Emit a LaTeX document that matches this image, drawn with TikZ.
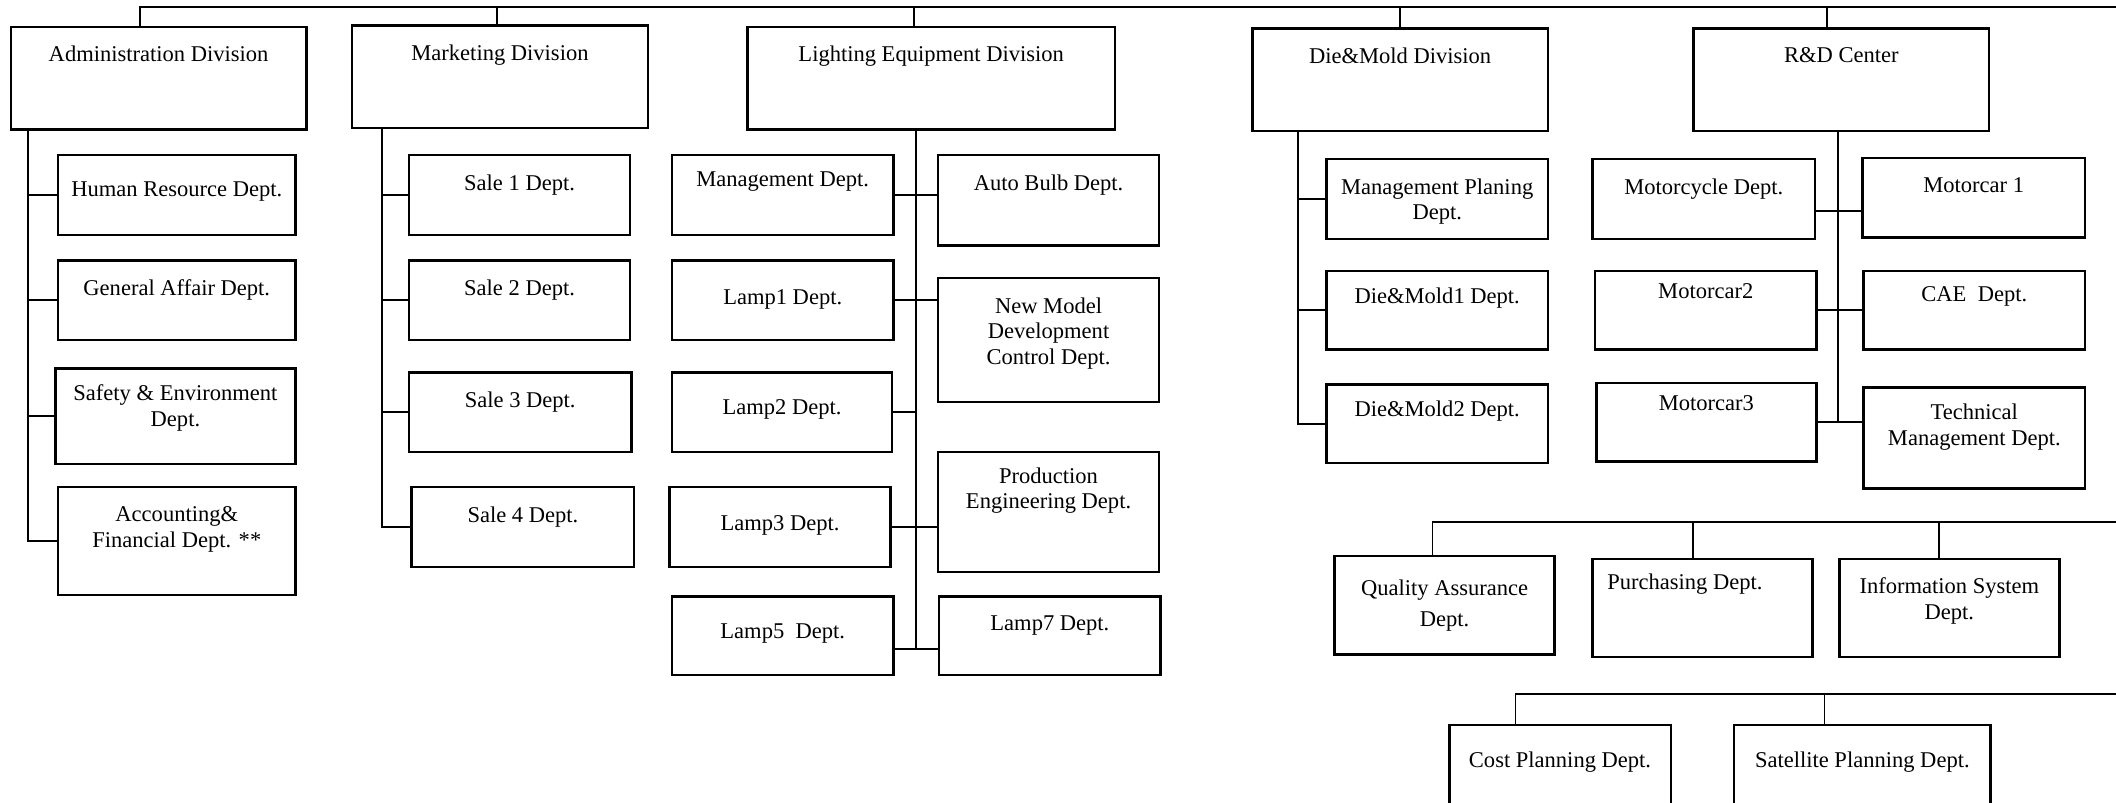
\documentclass[tikz,border=0pt]{standalone}
\usepackage{fontspec}
\setmainfont{Liberation Serif}

\begin{document}
\begin{tikzpicture}[
  x=0.2mm, y=-0.2mm,
  orgbox/.style 2 args={draw, line width=1pt, anchor=north west, outer sep=0pt, inner sep=0pt,
                        minimum width=#1*0.2mm, minimum height=#2*0.2mm},
  txt/.style={anchor=north, align=center, inner sep=0pt, yshift=-2.8mm,
              font=\fontsize{9.5}{10.8}\selectfont},
  link/.style={line width=0.8pt}
]
  \useasboundingbox (0,0) rectangle (1568,595);
  \clip (0,0) rectangle (1568,595);

  % divisions
  \node[orgbox={219}{76}, label={[txt]north:Administration Division}] (admin) at (8,20) {};
  \node[orgbox={219}{76}, label={[txt]north:Marketing Division}] (mkt) at (261,19) {};
  \node[orgbox={272}{76}, label={[txt]north:Lighting Equipment Division}] (light) at (554,20) {};
  \node[orgbox={219}{76}, label={[txt]north:Die\&Mold Division}] (dm) at (928,21) {};
  \node[orgbox={219}{76}, label={[txt]north:R\&D Center}] (rd) at (1255,21) {};

  % administration
  \node[orgbox={176}{59}, label={[txt,yshift=-1mm]north:Human Resource Dept.}] (hr) at (43,115) {};
  \node[orgbox={176}{59}, label={[txt]north:General Affair Dept.}] (ga) at (43,193) {};
  \node[orgbox={178}{71}, label={[txt,yshift=0.4mm]north:{Safety \& Environment\\Dept.}}] (safety) at (41,273) {};
  \node[orgbox={176}{80}, label={[txt]north:{Accounting\&\\Financial Dept. **}}] (acct) at (43,361) {};

  % marketing
  \node[orgbox={164}{59}, label={[txt]north:Sale 1 Dept.}] (sale1) at (303,115) {};
  \node[orgbox={164}{59}, label={[txt]north:Sale 2 Dept.}] (sale2) at (303,193) {};
  \node[orgbox={165}{59}, label={[txt]north:Sale 3 Dept.}] (sale3) at (303,276) {};
  \node[orgbox={165}{59}, label={[txt]north:Sale 4 Dept.}] (sale4) at (305,361) {};

  % lighting equipment
  \node[orgbox={164}{59}, label={[txt,yshift=0.4mm]north:Management Dept.}] (lmgmt) at (498,115) {};
  \node[orgbox={164}{67}, label={[txt]north:Auto Bulb Dept.}] (bulb) at (695,115) {};
  \node[orgbox={164}{59}, label={[txt,yshift=-1.4mm]north:Lamp1 Dept.}] (lamp1) at (498,193) {};
  \node[orgbox={164}{92}, label={[txt]north:{New Model\\Development\\Control Dept.}}] (newmodel) at (695,206) {};
  \node[orgbox={163}{59}, label={[txt,yshift=-1.2mm]north:Lamp2 Dept.}] (lamp2) at (498,276) {};
  \node[orgbox={164}{89}, label={[txt,yshift=0.6mm]north:{Production\\Engineering Dept.}}] (prodeng) at (695,335) {};
  \node[orgbox={164}{59}, label={[txt,yshift=-1.4mm]north:Lamp3 Dept.}] (lamp3) at (496,361) {};
  \node[orgbox={164}{58}, label={[txt,yshift=-1.2mm]north:Lamp5\ \ Dept.}] (lamp5) at (498,442) {};
  \node[orgbox={164}{58}, label={[txt]north:Lamp7 Dept.}] (lamp7) at (696,442) {};

  % die & mold
  \node[orgbox={164}{59}, label={[txt]north:{Management Planing\\Dept.}}] (mplan) at (983,118) {};
  \node[orgbox={164}{58}, label={[txt,yshift=0.4mm]north:Die\&Mold1 Dept.}] (dm1) at (983,201) {};
  \node[orgbox={164}{58}, label={[txt,yshift=0.4mm]north:Die\&Mold2 Dept.}] (dm2) at (983,285) {};

  % r&d
  \node[orgbox={165}{59}, label={[txt]north:Motorcycle Dept.}] (mcycle) at (1180,118) {};
  \node[orgbox={165}{59}, label={[txt]north:Motorcar 1}] (mcar1) at (1380,117) {};
  \node[orgbox={164}{58}, label={[txt,yshift=1mm]north:Motorcar2}] (mcar2) at (1182,201) {};
  \node[orgbox={164}{58}, label={[txt,yshift=0.6mm]north:CAE\ \ Dept.}] (cae) at (1381,201) {};
  \node[orgbox={163}{58}, label={[txt,yshift=1mm]north:Motorcar3}] (mcar3) at (1183,284) {};
  \node[orgbox={164}{75}, label={[txt,yshift=0.4mm]north:{Technical\\Management Dept.}}] (techmgmt) at (1381,287) {};

  % staff departments
  \node[orgbox={163}{73}, label={[txt,yshift=-0.6mm]north:{Quality Assurance\\[0.8mm]Dept.}}] (qa) at (989,412) {};
  \node[orgbox={163}{73}, label={[txt,xshift=-2.6mm,yshift=0.6mm]north:Purchasing Dept.}] (purch) at (1180,414) {};
  \node[orgbox={163}{73}, label={[txt]north:{Information System\\Dept.}}] (infosys) at (1363,414) {};
  \node[orgbox={164}{80}, label={[txt,yshift=-1.2mm]north:Cost Planning Dept.}] (cost) at (1074,537) {};
  \node[orgbox={190}{80}, label={[txt,yshift=-1.2mm]north:Satellite Planning Dept.}] (satplan) at (1285,537) {};

  \coordinate (topend) at (1568,5);
  \coordinate (midend) at (1568,387);
  \coordinate (lowend) at (1568,514);
  \coordinate (lend) at (679,481);

  % top line
  \draw[link] ([xshift=-2.7mm]admin.north) |- (topend);
  \draw[link] ([xshift=-0.5mm]mkt.north) -- ([xshift=-0.5mm]mkt.north |- topend);
  \draw[link] ([xshift=-2.6mm]light.north) -- ([xshift=-2.6mm]light.north |- topend);
  \draw[link] (dm.north) -- (dm.north |- topend);
  \draw[link] ([xshift=-2.2mm]rd.north) -- ([xshift=-2.2mm]rd.north |- topend);

  % administration
  \draw[link] (hr.west) -| ([xshift=2.6mm]admin.south west);
  \draw[link] (ga.west) -| ([xshift=2.6mm]admin.south west);
  \draw[link] (safety.west) -| ([xshift=2.6mm]admin.south west);
  \draw[link] (acct.west) -| ([xshift=2.6mm]admin.south west);

  % marketing
  \draw[link] (sale1.west) -| ([xshift=4.4mm]mkt.south west);
  \draw[link] (sale2.west) -| ([xshift=4.4mm]mkt.south west);
  \draw[link] (sale3.west) -| ([xshift=4.4mm]mkt.south west);
  \draw[link] (sale4.west) -| ([xshift=4.4mm]mkt.south west);

  % lighting equipment
  \draw[link] (light.south -| lend) -- (lend);
  \draw[link] (lmgmt.east) -- (lmgmt.east -| bulb.west);
  \draw[link] (lamp1.east) -- (lamp1.east -| newmodel.west);
  \draw[link] (lamp2.east) -- (lamp2.east -| lend);
  \draw[link] (lamp3.east) -- (lamp3.east -| prodeng.west);
  \draw[link] (lamp5.east |- lend) -- (lamp7.west |- lend);

  % die & mold
  \draw[link] (mplan.west) -| ([xshift=6.8mm]dm.south west);
  \draw[link] (dm1.west) -| ([xshift=6.8mm]dm.south west);
  \draw[link] (dm2.west) -| ([xshift=6.8mm]dm.south west);

  % r&d
  \draw[link] ([xshift=-0.5mm]rd.south) -- ([xshift=-0.5mm]rd.south |- mcar3.east);
  \draw[link] ([yshift=-1.8mm]mcycle.east) -- ([yshift=-1.8mm]mcycle.east -| mcar1.west);
  \draw[link] (mcar2.east) -- (mcar2.east -| cae.west);
  \draw[link] (mcar3.east) -- (mcar3.east -| techmgmt.west);

  % staff rows
  \draw[link] ([xshift=-1.8mm]qa.north) |- (midend);
  \draw[link] ([xshift=-1.4mm]purch.north) -- ([xshift=-1.4mm]purch.north |- midend);
  \draw[link] ([xshift=-1.5mm]infosys.north) -- ([xshift=-1.5mm]infosys.north |- midend);
  \draw[link] ([xshift=-6.6mm]cost.north) |- (lowend);
  \draw[link] ([xshift=-5.6mm]satplan.north) -- ([xshift=-5.6mm]satplan.north |- lowend);
\end{tikzpicture}
\end{document}
